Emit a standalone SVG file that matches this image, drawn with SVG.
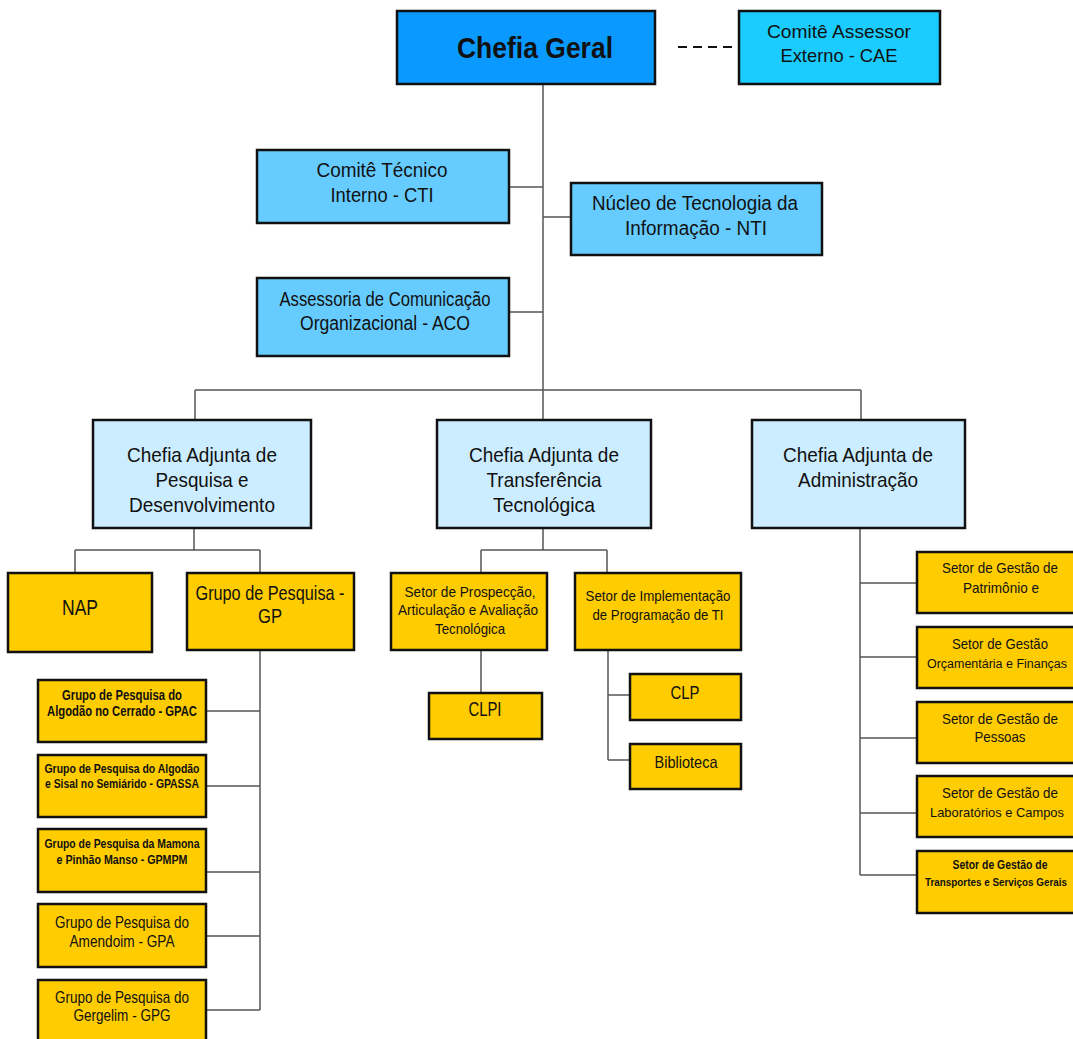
<svg xmlns="http://www.w3.org/2000/svg" width="1073" height="1039" viewBox="0 0 1073 1039">
<style>
.b{stroke:#111;stroke-width:2.5}
.c0{fill:#0A99FF}.c1{fill:#1ACCFF}.c2{fill:#66CCFF}.c3{fill:#CCECFF}.y{fill:#FFCC00}
text{font-family:"Liberation Sans",Arial,sans-serif;fill:#111;text-anchor:middle}
.bd{font-weight:bold}
.ln{stroke:#555;stroke-width:1.5;fill:none}
.ds{stroke:#111;stroke-width:2;stroke-dasharray:9,6;fill:none}
</style>
<rect width="1073" height="1039" fill="#fff"/>
<g id="connectors">
<path class="ds" d="M678 47H736"/>
<path class="ln" d="M543 84V390M509 187H543M543 217H571M509 312H543M195 390H861M195 390V420M543 390V420M861 390V420"/>
<path class="ln" d="M194 528V550M75 550H260M75 550V573M260 550V573M260 650V1010M206 711H260M206 786H260M206 872H260M206 936H260M206 1010H260"/>
<path class="ln" d="M543 528V550M481 550H607M481 550V573M607 550V573M481 650V693M608 650V760M608 695H630M608 760H630"/>
<path class="ln" d="M860 528V875M860 583H917M860 657H917M860 738H917M860 813H917M860 875H917"/>
</g>
<g id="chefia-geral"><rect class="b c0" x="397" y="11" width="258" height="73"/><text x="535" y="58" font-size="30" class="bd" textLength="156" lengthAdjust="spacingAndGlyphs">Chefia Geral</text></g>
<g id="cae"><rect class="b c1" x="739" y="11" width="201" height="73"/><text x="839" y="38" font-size="18.5" textLength="144" lengthAdjust="spacingAndGlyphs">Comitê Assessor</text><text x="839" y="62" font-size="18.5" textLength="117" lengthAdjust="spacingAndGlyphs">Externo - CAE</text></g>
<g id="cti"><rect class="b c2" x="257" y="150" width="252" height="73"/><text x="382" y="177" font-size="19.5" textLength="131" lengthAdjust="spacingAndGlyphs">Comitê Técnico</text><text x="382" y="202" font-size="19.5" textLength="103" lengthAdjust="spacingAndGlyphs">Interno - CTI</text></g>
<g id="nti"><rect class="b c2" x="571" y="183" width="251" height="72"/><text x="695" y="210" font-size="20" textLength="206" lengthAdjust="spacingAndGlyphs">Núcleo de Tecnologia da</text><text x="696" y="235" font-size="20" textLength="142" lengthAdjust="spacingAndGlyphs">Informação - NTI</text></g>
<g id="aco"><rect class="b c2" x="257" y="278" width="252" height="78"/><text x="385" y="306" font-size="19.5" textLength="211" lengthAdjust="spacingAndGlyphs">Assessoria de Comunicação</text><text x="385" y="330" font-size="19.5" textLength="170" lengthAdjust="spacingAndGlyphs">Organizacional - ACO</text></g>
<g id="adj-pd"><rect class="b c3" x="93" y="420" width="218" height="108"/><text x="202" y="462" font-size="21" textLength="150" lengthAdjust="spacingAndGlyphs">Chefia Adjunta de</text><text x="202" y="487" font-size="21" textLength="93" lengthAdjust="spacingAndGlyphs">Pesquisa e</text><text x="202" y="512" font-size="21" textLength="146" lengthAdjust="spacingAndGlyphs">Desenvolvimento</text></g>
<g id="adj-tt"><rect class="b c3" x="437" y="420" width="214" height="108"/><text x="544" y="462" font-size="21" textLength="150" lengthAdjust="spacingAndGlyphs">Chefia Adjunta de</text><text x="544" y="487" font-size="21" textLength="115" lengthAdjust="spacingAndGlyphs">Transferência</text><text x="544" y="512" font-size="21" textLength="102" lengthAdjust="spacingAndGlyphs">Tecnológica</text></g>
<g id="adj-adm"><rect class="b c3" x="752" y="420" width="213" height="108"/><text x="858" y="462" font-size="21" textLength="150" lengthAdjust="spacingAndGlyphs">Chefia Adjunta de</text><text x="858" y="487" font-size="21" textLength="120" lengthAdjust="spacingAndGlyphs">Administração</text></g>
<g id="nap"><rect class="b y" x="8" y="573" width="144" height="79"/><text x="80" y="615" font-size="22" textLength="36" lengthAdjust="spacingAndGlyphs">NAP</text></g>
<g id="gp"><rect class="b y" x="187" y="573" width="167" height="77"/><text x="270" y="600" font-size="21" textLength="149" lengthAdjust="spacingAndGlyphs">Grupo de Pesquisa -</text><text x="270" y="623" font-size="21" textLength="24" lengthAdjust="spacingAndGlyphs">GP</text></g>
<g id="gpac"><rect class="b y" x="38" y="680" width="168" height="62"/><text x="122" y="700" font-size="14" class="bd" textLength="120" lengthAdjust="spacingAndGlyphs">Grupo de Pesquisa do</text><text x="122" y="716" font-size="14" class="bd" textLength="150" lengthAdjust="spacingAndGlyphs">Algodão no Cerrado - GPAC</text></g>
<g id="gpassa"><rect class="b y" x="38" y="755" width="168" height="62"/><text x="122" y="773" font-size="13" class="bd" textLength="155" lengthAdjust="spacingAndGlyphs">Grupo de Pesquisa do Algodão</text><text x="122" y="788" font-size="13" class="bd" textLength="154" lengthAdjust="spacingAndGlyphs">e Sisal no Semiárido - GPASSA</text></g>
<g id="gpmpm"><rect class="b y" x="38" y="829" width="168" height="63"/><text x="122" y="848" font-size="13" class="bd" textLength="155" lengthAdjust="spacingAndGlyphs">Grupo de Pesquisa da Mamona</text><text x="122" y="864" font-size="13" class="bd" textLength="131" lengthAdjust="spacingAndGlyphs">e Pinhão Manso - GPMPM</text></g>
<g id="gpa"><rect class="b y" x="38" y="904" width="168" height="63"/><text x="122" y="928" font-size="17" textLength="134" lengthAdjust="spacingAndGlyphs">Grupo de Pesquisa do</text><text x="122" y="947" font-size="17" textLength="105" lengthAdjust="spacingAndGlyphs">Amendoim - GPA</text></g>
<g id="gpg"><rect class="b y" x="38" y="980" width="168" height="62"/><text x="122" y="1003" font-size="17" textLength="134" lengthAdjust="spacingAndGlyphs">Grupo de Pesquisa do</text><text x="122" y="1021" font-size="17" textLength="97" lengthAdjust="spacingAndGlyphs">Gergelim - GPG</text></g>
<g id="spaat"><rect class="b y" x="391" y="573" width="156" height="77"/><text x="470" y="597" font-size="15" textLength="131" lengthAdjust="spacingAndGlyphs">Setor de Prospecção,</text><text x="468" y="615" font-size="15" textLength="140" lengthAdjust="spacingAndGlyphs">Articulação e Avaliação</text><text x="470" y="634" font-size="15" textLength="70" lengthAdjust="spacingAndGlyphs">Tecnológica</text></g>
<g id="sipti"><rect class="b y" x="575" y="573" width="166" height="77"/><text x="658" y="601" font-size="15" textLength="145" lengthAdjust="spacingAndGlyphs">Setor de Implementação</text><text x="658" y="620" font-size="15" textLength="131" lengthAdjust="spacingAndGlyphs">de Programação de TI</text></g>
<g id="clpi"><rect class="b y" x="429" y="693" width="113" height="46"/><text x="485" y="716" font-size="20" textLength="33" lengthAdjust="spacingAndGlyphs">CLPI</text></g>
<g id="clp"><rect class="b y" x="630" y="674" width="111" height="46"/><text x="685" y="699" font-size="18.5" textLength="29" lengthAdjust="spacingAndGlyphs">CLP</text></g>
<g id="biblioteca"><rect class="b y" x="630" y="744" width="111" height="45"/><text x="686" y="768" font-size="16.5" textLength="63" lengthAdjust="spacingAndGlyphs">Biblioteca</text></g>
<g id="sgp"><rect class="b y" x="917" y="552" width="166" height="61"/><text x="1000" y="573" font-size="14.5" textLength="116" lengthAdjust="spacingAndGlyphs">Setor de Gestão de</text><text x="1001" y="593" font-size="14.5" textLength="76" lengthAdjust="spacingAndGlyphs">Patrimônio e</text></g>
<g id="sgof"><rect class="b y" x="917" y="627" width="166" height="61"/><text x="1000" y="649" font-size="14.5" textLength="96" lengthAdjust="spacingAndGlyphs">Setor de Gestão</text><text x="997" y="668" font-size="12.5" textLength="140" lengthAdjust="spacingAndGlyphs">Orçamentária e Finanças</text></g>
<g id="sgpe"><rect class="b y" x="917" y="702" width="166" height="61"/><text x="1000" y="724" font-size="14.5" textLength="116" lengthAdjust="spacingAndGlyphs">Setor de Gestão de</text><text x="1000" y="742" font-size="14.5" textLength="51" lengthAdjust="spacingAndGlyphs">Pessoas</text></g>
<g id="sglc"><rect class="b y" x="917" y="776" width="166" height="61"/><text x="1000" y="798" font-size="14.5" textLength="116" lengthAdjust="spacingAndGlyphs">Setor de Gestão de</text><text x="997" y="817" font-size="13" textLength="134" lengthAdjust="spacingAndGlyphs">Laboratórios e Campos</text></g>
<g id="sgtsg"><rect class="b y" x="917" y="851" width="166" height="62"/><text x="1000" y="869" font-size="12" class="bd" textLength="95" lengthAdjust="spacingAndGlyphs">Setor de Gestão de</text><text x="996" y="886" font-size="10" class="bd" textLength="142" lengthAdjust="spacingAndGlyphs">Transportes e Serviços Gerais</text></g>
</svg>
